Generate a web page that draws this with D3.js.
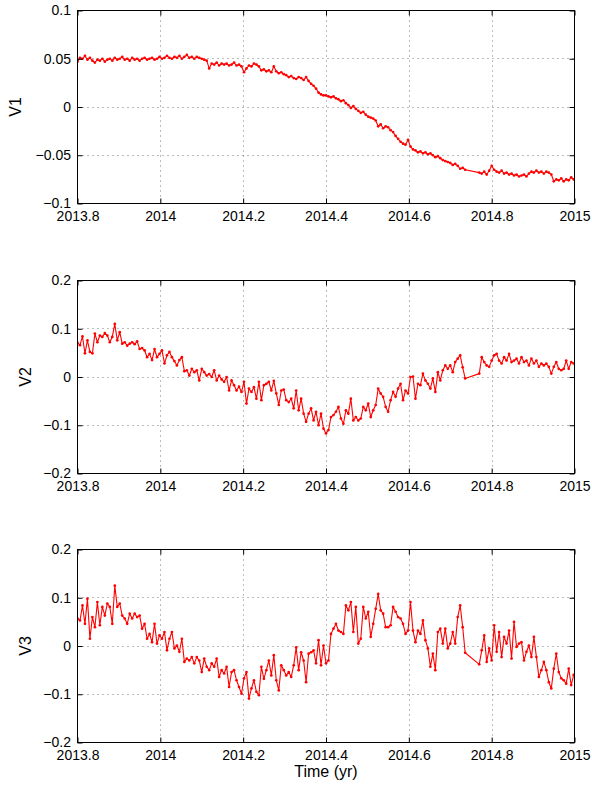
<!DOCTYPE html>
<html>
<head>
<meta charset="utf-8">
<script src="https://cdn.jsdelivr.net/npm/d3@7"></script>
<style>
  body { margin: 0; background: #fff; }
  svg { display: block; }
  text { font-family: "Liberation Sans", Arial, Helvetica, sans-serif; }
</style>
</head>
<body>
<div id="chart"></div>
<script>
// sample times (yr), there is a gap between 2014.736 and 2014.770
const time = [
  2013.800,2013.806,2013.812,2013.818,2013.824,2013.830,2013.836,2013.842,2013.848,2013.854,
  2013.860,2013.866,2013.872,2013.878,2013.884,2013.890,2013.896,2013.902,2013.908,2013.914,
  2013.920,2013.926,2013.932,2013.938,2013.944,2013.950,2013.956,2013.962,2013.968,2013.974,
  2013.980,2013.986,2013.992,2013.998,2014.004,2014.010,2014.016,2014.022,2014.028,2014.034,
  2014.040,2014.046,2014.052,2014.058,2014.064,2014.070,2014.076,2014.082,2014.088,2014.094,
  2014.100,2014.106,2014.112,2014.118,2014.124,2014.130,2014.136,2014.142,2014.148,2014.154,
  2014.160,2014.166,2014.172,2014.178,2014.184,2014.190,2014.196,2014.202,2014.208,2014.214,
  2014.220,2014.226,2014.232,2014.238,2014.244,2014.250,2014.256,2014.262,2014.268,2014.274,
  2014.280,2014.286,2014.292,2014.298,2014.304,2014.310,2014.316,2014.322,2014.328,2014.334,
  2014.340,2014.346,2014.352,2014.358,2014.364,2014.370,2014.376,2014.382,2014.388,2014.394,
  2014.400,2014.406,2014.412,2014.418,2014.424,2014.430,2014.436,2014.442,2014.448,2014.454,
  2014.460,2014.466,2014.472,2014.478,2014.484,2014.490,2014.496,2014.502,2014.508,2014.514,
  2014.520,2014.526,2014.532,2014.538,2014.544,2014.550,2014.556,2014.562,2014.568,2014.574,
  2014.580,2014.586,2014.592,2014.598,2014.604,2014.610,2014.616,2014.622,2014.628,2014.634,
  2014.640,2014.646,2014.652,2014.658,2014.664,2014.670,2014.676,2014.682,2014.688,2014.694,
  2014.700,2014.706,2014.712,2014.718,2014.724,2014.730,2014.736,
  2014.770,2014.776,2014.782,2014.788,2014.794,2014.800,2014.806,2014.812,2014.818,2014.824,
  2014.830,2014.836,2014.842,2014.848,2014.854,2014.860,2014.866,2014.872,2014.878,2014.884,
  2014.890,2014.896,2014.902,2014.908,2014.914,2014.920,2014.926,2014.932,2014.938,2014.944,
  2014.950,2014.956,2014.962,2014.968,2014.974,2014.980,2014.986,2014.992,2014.998
];

const v1 = [
  0.047,0.051,0.050,0.053,0.049,0.051,0.048,0.046,0.049,0.048,
  0.050,0.047,0.049,0.050,0.048,0.051,0.049,0.050,0.052,0.049,
  0.050,0.048,0.051,0.049,0.050,0.048,0.050,0.051,0.049,0.050,
  0.051,0.049,0.050,0.052,0.050,0.051,0.053,0.051,0.050,0.052,
  0.051,0.053,0.050,0.052,0.054,0.051,0.052,0.050,0.052,0.051,
  0.050,0.049,0.048,0.040,0.045,0.044,0.046,0.043,0.045,0.044,
  0.045,0.043,0.044,0.046,0.043,0.044,0.042,0.036,0.040,0.043,
  0.042,0.045,0.044,0.042,0.038,0.039,0.037,0.038,0.036,0.042,
  0.037,0.035,0.036,0.034,0.033,0.031,0.032,0.030,0.029,0.031,
  0.030,0.028,0.031,0.027,0.024,0.022,0.019,0.015,0.013,0.012,
  0.012,0.011,0.010,0.011,0.009,0.008,0.006,0.007,0.004,0.002,
  -0.001,0.001,-0.002,-0.004,-0.006,-0.005,-0.008,-0.010,-0.011,-0.012,
  -0.014,-0.020,-0.018,-0.022,-0.020,-0.021,-0.024,-0.026,-0.030,-0.033,
  -0.036,-0.038,-0.039,-0.034,-0.041,-0.044,-0.045,-0.047,-0.046,-0.048,
  -0.047,-0.049,-0.048,-0.050,-0.052,-0.051,-0.053,-0.055,-0.056,-0.057,
  -0.058,-0.060,-0.059,-0.061,-0.064,-0.063,-0.065,
  -0.068,-0.069,-0.067,-0.070,-0.066,-0.061,-0.065,-0.067,-0.068,-0.066,
  -0.069,-0.068,-0.070,-0.069,-0.071,-0.070,-0.072,-0.071,-0.070,-0.072,
  -0.069,-0.067,-0.068,-0.066,-0.068,-0.067,-0.069,-0.067,-0.068,-0.070,
  -0.077,-0.075,-0.076,-0.074,-0.077,-0.075,-0.076,-0.073,-0.075
];

const v2 = [
  0.071,0.066,0.084,0.049,0.076,0.052,0.049,0.090,0.072,0.086,
  0.083,0.091,0.086,0.072,0.083,0.110,0.076,0.093,0.069,0.072,
  0.065,0.069,0.072,0.068,0.074,0.058,0.060,0.055,0.041,0.048,
  0.035,0.058,0.041,0.048,0.055,0.028,0.045,0.052,0.041,0.033,
  0.024,0.035,0.041,0.012,0.014,0.003,0.017,0.010,0.014,-0.007,
  0.017,0.010,0.003,0.006,0.000,0.014,-0.007,0.003,-0.005,-0.010,
  0.000,-0.028,-0.007,-0.017,-0.028,-0.020,-0.031,-0.010,-0.055,-0.024,
  -0.031,-0.021,-0.045,-0.010,-0.048,-0.017,-0.014,-0.010,-0.028,-0.008,
  -0.034,-0.058,-0.028,-0.026,-0.048,-0.052,-0.045,-0.065,-0.028,-0.069,
  -0.045,-0.076,-0.093,-0.076,-0.065,-0.090,-0.072,-0.100,-0.076,-0.107,
  -0.117,-0.110,-0.083,-0.079,-0.072,-0.062,-0.086,-0.097,-0.069,-0.076,
  -0.045,-0.090,-0.083,-0.090,-0.086,-0.062,-0.069,-0.055,-0.083,-0.069,
  -0.058,-0.024,-0.034,-0.041,-0.062,-0.072,-0.048,-0.031,-0.041,-0.024,
  -0.014,-0.048,-0.028,-0.034,0.000,0.001,-0.045,-0.014,-0.017,0.007,
  -0.007,-0.014,-0.024,-0.003,-0.031,0.010,-0.007,0.014,0.024,0.017,
  0.024,0.010,0.031,0.038,0.045,0.020,-0.003,
  0.007,0.041,0.031,0.024,0.021,0.034,0.045,0.048,0.034,0.028,
  0.041,0.034,0.048,0.031,0.034,0.038,0.028,0.041,0.031,0.034,
  0.024,0.038,0.028,0.034,0.021,0.028,0.024,0.028,0.021,0.007,
  0.021,0.031,0.017,0.014,0.017,0.034,0.017,0.031,0.028
];

const v3 = [
  0.057,0.053,0.084,0.046,0.098,0.015,0.060,0.039,0.091,0.043,
  0.081,0.063,0.088,0.081,0.046,0.125,0.081,0.088,0.063,0.057,
  0.046,0.067,0.057,0.067,0.060,0.063,0.036,0.046,0.015,0.025,
  0.008,0.046,0.005,0.022,0.015,0.029,-0.009,0.015,0.029,-0.005,
  0.001,-0.012,0.015,-0.033,-0.026,-0.030,-0.023,-0.036,-0.023,-0.030,
  -0.054,-0.026,-0.043,-0.050,-0.036,-0.043,-0.026,-0.064,-0.050,-0.057,
  -0.043,-0.085,-0.054,-0.050,-0.071,-0.085,-0.099,-0.067,-0.054,-0.109,
  -0.088,-0.071,-0.095,-0.102,-0.043,-0.068,-0.050,-0.030,-0.061,-0.019,
  -0.071,-0.092,-0.040,-0.050,-0.061,-0.054,-0.064,-0.040,-0.003,-0.050,
  -0.013,-0.030,-0.075,-0.016,-0.013,-0.009,-0.036,0.012,-0.040,0.001,
  -0.036,-0.030,0.025,0.036,0.046,0.032,0.029,0.025,0.084,0.074,
  0.091,0.029,0.081,0.005,0.015,0.081,0.057,0.071,0.019,0.046,
  0.077,0.108,0.074,0.067,0.039,0.039,0.043,0.081,0.071,0.060,
  0.057,0.046,0.025,0.032,0.091,0.032,0.008,0.032,0.025,0.053,
  0.012,-0.005,-0.043,-0.016,-0.050,0.029,0.036,0.005,0.036,-0.005,
  0.005,0.029,0.005,0.060,0.084,0.039,-0.014,
  -0.038,-0.009,0.022,-0.033,-0.005,-0.030,0.043,-0.012,0.029,-0.023,
  0.019,0.005,0.032,-0.026,0.050,-0.002,0.005,0.008,-0.030,-0.012,
  0.001,-0.023,0.019,-0.023,-0.064,-0.050,-0.033,-0.050,-0.075,-0.088,
  -0.047,-0.016,-0.054,-0.067,-0.071,-0.078,-0.047,-0.081,-0.060
];

const xTicks = [2013.8, 2014, 2014.2, 2014.4, 2014.6, 2014.8, 2015];
const v1Ticks = [-0.1, -0.05, 0, 0.05, 0.1];
const v23Ticks = [-0.2, -0.1, 0, 0.1, 0.2];

const width = 592, height = 789;
const left = 77.5, right = 574.5, panelH = 193;

const panels = [
  { label: "V1", values: v1, domain: [-0.1, 0.1], ticks: v1Ticks, top: 10.5, labelX: 21 },
  { label: "V2", values: v2, domain: [-0.2, 0.2], ticks: v23Ticks, top: 280.5, labelX: 31 },
  { label: "V3", values: v3, domain: [-0.2, 0.2], ticks: v23Ticks, top: 549.5, labelX: 31 }
];

// MATLAB style minus sign
const fmt = d => (d < 0 ? "\u2212" : "") + String(Math.abs(d));

const svg = d3.select("#chart").append("svg")
  .attr("width", width)
  .attr("height", height);

const x = d3.scaleLinear().domain([2013.8, 2015]).range([left, right]);

panels.forEach((p, pi) => {
  const y = d3.scaleLinear().domain(p.domain).range([p.top + panelH, p.top]);
  const g = svg.append("g").attr("class", "panel" + pi);

  // dotted grid
  g.append("g").selectAll("line").data(xTicks.slice(1, -1)).join("line")
    .attr("x1", d => Math.round(x(d)) + 0.5).attr("x2", d => Math.round(x(d)) + 0.5)
    .attr("y1", p.top).attr("y2", p.top + panelH)
    .attr("stroke", "#555").attr("stroke-width", 0.8).attr("stroke-dasharray", "1,4");
  g.append("g").selectAll("line").data(p.ticks.slice(1, -1)).join("line")
    .attr("x1", left).attr("x2", right)
    .attr("y1", d => Math.round(y(d) - 0.5) + 0.5).attr("y2", d => Math.round(y(d) - 0.5) + 0.5)
    .attr("stroke", "#555").attr("stroke-width", 0.8).attr("stroke-dasharray", "1,4");

  // series, line with small point markers
  const clipId = "clip" + pi;
  svg.append("clipPath").attr("id", clipId).append("rect")
    .attr("x", left).attr("y", p.top).attr("width", right - left).attr("height", panelH);
  const pts = time.map((t, i) => [t, p.values[i]]);
  const line = d3.line().x(d => x(d[0])).y(d => y(d[1]));
  const s = g.append("g").attr("clip-path", "url(#" + clipId + ")");
  s.append("path").datum(pts)
    .attr("d", line)
    .attr("fill", "none")
    .attr("stroke", "#ff0000")
    .attr("stroke-width", 1.1)
    .attr("stroke-linejoin", "round");
  s.selectAll("circle").data(pts).join("circle")
    .attr("cx", d => x(d[0])).attr("cy", d => y(d[1]))
    .attr("r", 1.35).attr("fill", "#ff0000");

  // axes with inward ticks
  const axB = g.append("g").attr("transform", `translate(0,${p.top + panelH})`)
    .call(d3.axisBottom(x).tickValues(xTicks).tickFormat(fmt).tickSizeInner(-5).tickSizeOuter(0).tickPadding(7.5));
  const axT = g.append("g").attr("transform", `translate(0,${p.top})`)
    .call(d3.axisTop(x).tickValues(xTicks).tickFormat("").tickSizeInner(-5).tickSizeOuter(0));
  const axL = g.append("g").attr("transform", `translate(${left},0)`)
    .call(d3.axisLeft(y).tickValues(p.ticks).tickFormat(fmt).tickSizeInner(-5).tickSizeOuter(0).tickPadding(6.5));
  const axR = g.append("g").attr("transform", `translate(${right},0)`)
    .call(d3.axisRight(y).tickValues(p.ticks).tickFormat("").tickSizeInner(-5).tickSizeOuter(0));
  [axB, axT, axL, axR].forEach(a => {
    a.select(".domain").remove();
    a.selectAll("line").attr("stroke", "#000");
    a.selectAll("text").attr("fill", "#000").style("font-size", "14px");
  });

  // box
  g.append("rect")
    .attr("x", left).attr("y", p.top).attr("width", right - left).attr("height", panelH)
    .attr("fill", "none").attr("stroke", "#000").attr("stroke-width", 1);

  // y label
  g.append("text")
    .attr("transform", `translate(${p.labelX},${p.top + panelH / 2}) rotate(-90)`)
    .attr("text-anchor", "middle")
    .style("font-size", "16px")
    .text(p.label);
});

svg.append("text")
  .attr("x", (left + right) / 2).attr("y", 777)
  .attr("text-anchor", "middle")
  .style("font-size", "16px")
  .text("Time (yr)");
</script>
</body>
</html>
